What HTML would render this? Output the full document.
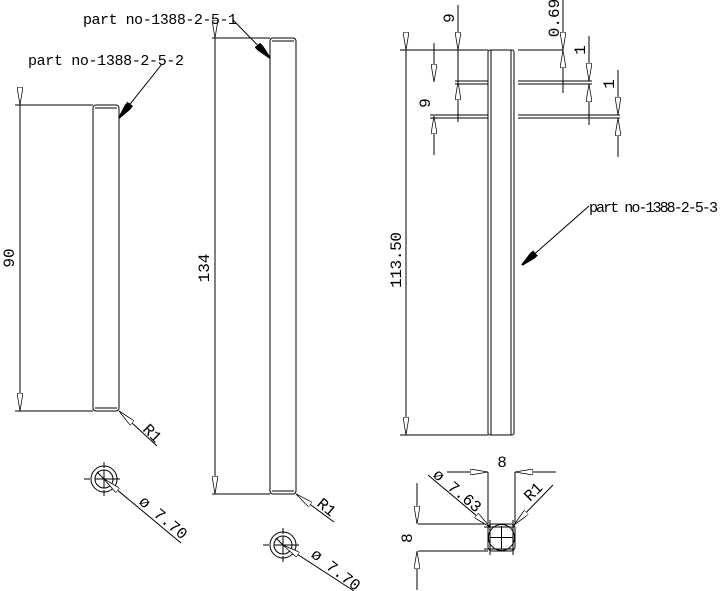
<!DOCTYPE html>
<html><head><style>body{margin:0;background:#fff}svg{display:block}</style></head><body>
<svg width="720" height="591" viewBox="0 0 720 591" xmlns="http://www.w3.org/2000/svg" font-family="Liberation Mono, monospace" font-size="15" fill="none" stroke="#000" stroke-width="1">
<defs>
<marker id="a" viewBox="0 0 10 4" refX="10" refY="2" markerWidth="18" markerHeight="6" markerUnits="userSpaceOnUse" orient="auto" preserveAspectRatio="none"><path d="M0,0L10,2L0,4Z" fill="#fff" stroke="#000" stroke-width="0.5"/></marker>
<marker id="f" viewBox="0 0 10 4" refX="10" refY="2" markerWidth="18" markerHeight="7" markerUnits="userSpaceOnUse" orient="auto" preserveAspectRatio="none"><path d="M0,0L10,2L0,4Z" fill="#000"/></marker>
</defs>
<!-- Part 1 -->
<rect x="93" y="105" width="26" height="306" rx="3"/>
<line x1="95" y1="108" x2="117" y2="108"/><line x1="95" y1="408" x2="117" y2="408"/>
<line x1="15" y1="105" x2="93" y2="105"/><line x1="15" y1="411" x2="93" y2="411"/>
<line x1="20" y1="105" x2="20" y2="411" marker-start="url(#a)" marker-end="url(#a)"/>
<text x="14" y="258" fill="#000" stroke="none" transform="rotate(-90 14 258)" text-anchor="middle" font-size="16">90</text>
<text x="28" y="65" fill="#000" stroke="none" textLength="156">part no-1388-2-5-2</text>
<line x1="162" y1="64" x2="119" y2="118" marker-end="url(#f)"/>
<line x1="157" y1="446" x2="119" y2="411" marker-end="url(#a)"/>
<text x="142" y="430" fill="#000" stroke="none" transform="rotate(45 142 430)" font-size="16">R1</text>
<circle cx="104" cy="479" r="13"/><circle cx="104" cy="479" r="9"/>
<path d="M104,462v6M104,490v6M84,479h6M112,479h8M104,470v18M95,479h18M97,472l7,7"/>
<line x1="181" y1="543" x2="104" y2="479" marker-end="url(#a)"/>
<text x="138" y="503" fill="#000" stroke="none" transform="rotate(40 138 503)" font-size="16">ø 7.70</text>
<!-- Part 2 -->
<rect x="270" y="38" width="26" height="456" rx="3"/>
<line x1="272" y1="41" x2="294" y2="41"/><line x1="272" y1="491" x2="294" y2="491"/>
<line x1="212" y1="38" x2="270" y2="38"/><line x1="212" y1="494" x2="270" y2="494"/>
<line x1="215" y1="38" x2="215" y2="494" marker-start="url(#a)" marker-end="url(#a)"/>
<text x="209" y="268" fill="#000" stroke="none" transform="rotate(-90 209 268)" text-anchor="middle" font-size="16">134</text>
<text x="83" y="24" fill="#000" stroke="none" textLength="154">part no-1388-2-5-1</text>
<line x1="233" y1="20" x2="270" y2="58" marker-end="url(#f)"/>
<line x1="334" y1="522" x2="296" y2="494" marker-end="url(#a)"/>
<text x="316" y="505" fill="#000" stroke="none" transform="rotate(40 316 505)" font-size="16">R1</text>
<circle cx="283" cy="545" r="13"/><circle cx="283" cy="545" r="9"/>
<path d="M283,528v6M283,556v6M263,545h6M291,545h8M283,536v18M274,545h18M276,538l7,7"/>
<line x1="354" y1="591" x2="283" y2="545" marker-end="url(#a)"/>
<text x="310" y="556" fill="#000" stroke="none" transform="rotate(38 310 556)" font-size="16">ø 7.70</text>
<!-- Part 3 -->
<rect x="488" y="50" width="26" height="385" rx="2"/>
<line x1="491" y1="50" x2="491" y2="435"/><line x1="511" y1="50" x2="511" y2="435"/>
<line x1="400" y1="50" x2="488" y2="50"/><line x1="400" y1="435" x2="488" y2="435"/>
<line x1="406" y1="50" x2="406" y2="435" marker-start="url(#a)" marker-end="url(#a)"/>
<text x="401" y="260" fill="#000" stroke="none" transform="rotate(-90 401 260)" text-anchor="middle" font-size="16" textLength="56">113.50</text>
<path d="M455,81h33M455,84h33M430,115h58M430,118h58"/>
<path d="M518,50h45M518,81h74M518,84h74M518,115h102M518,118h102"/>
<line x1="458" y1="5" x2="458" y2="50" marker-end="url(#a)"/><line x1="458" y1="122" x2="458" y2="82" marker-end="url(#a)"/><line x1="458" y1="50" x2="458" y2="82"/>
<text x="454" y="18" fill="#000" stroke="none" transform="rotate(-90 454 18)" text-anchor="middle" font-size="16">9</text>
<line x1="434" y1="43" x2="434" y2="82" marker-end="url(#a)"/><line x1="434" y1="155" x2="434" y2="116" marker-end="url(#a)"/>
<text x="430" y="103" fill="#000" stroke="none" transform="rotate(-90 430 103)" text-anchor="middle" font-size="16">9</text>
<line x1="563" y1="0" x2="563" y2="50" marker-end="url(#a)"/><line x1="563" y1="93" x2="563" y2="50" marker-end="url(#a)"/>
<text x="559" y="18" fill="#000" stroke="none" transform="rotate(-90 559 18)" text-anchor="middle" font-size="16">0.69</text>
<line x1="589" y1="36" x2="589" y2="81" marker-end="url(#a)"/><line x1="589" y1="125" x2="589" y2="84" marker-end="url(#a)"/>
<text x="585" y="50" fill="#000" stroke="none" transform="rotate(-90 585 50)" text-anchor="middle" font-size="16">1</text>
<line x1="618" y1="70" x2="618" y2="115" marker-end="url(#a)"/><line x1="618" y1="157" x2="618" y2="118" marker-end="url(#a)"/>
<text x="614" y="84" fill="#000" stroke="none" transform="rotate(-90 614 84)" text-anchor="middle" font-size="16">1</text>
<text x="589" y="212" fill="#000" stroke="none" textLength="129">part no-1388-2-5-3</text>
<line x1="589" y1="206" x2="522" y2="265" marker-end="url(#f)"/>
<!-- Section -->
<rect x="488" y="524" width="27" height="27" rx="4"/>
<circle cx="501.5" cy="537.5" r="13"/>
<path d="M501.5,526v23M490,537.5h23M484,527h30M484,549h30M490,520v35M513,520v35"/>
<path d="M488,524V472M515,524V472M418,524h70M418,551h70"/>
<line x1="447" y1="472" x2="488" y2="472" marker-end="url(#a)"/><line x1="556" y1="472" x2="515" y2="472" marker-end="url(#a)"/>
<text x="502" y="467" fill="#000" stroke="none" text-anchor="middle" font-size="16">8</text>
<line x1="417" y1="483" x2="417" y2="524" marker-end="url(#a)"/><line x1="417" y1="590" x2="417" y2="551" marker-end="url(#a)"/>
<text x="412" y="538" fill="#000" stroke="none" transform="rotate(-90 412 538)" text-anchor="middle" font-size="16">8</text>
<line x1="428" y1="475" x2="490" y2="527" marker-end="url(#a)"/>
<text x="432" y="476" fill="#000" stroke="none" transform="rotate(40 432 476)" font-size="16">ø 7.63</text>
<line x1="553" y1="485" x2="514" y2="525" marker-end="url(#a)"/>
<text x="530" y="502" fill="#000" stroke="none" transform="rotate(-45 530 502)" font-size="16">R1</text>
</svg>
</body></html>
